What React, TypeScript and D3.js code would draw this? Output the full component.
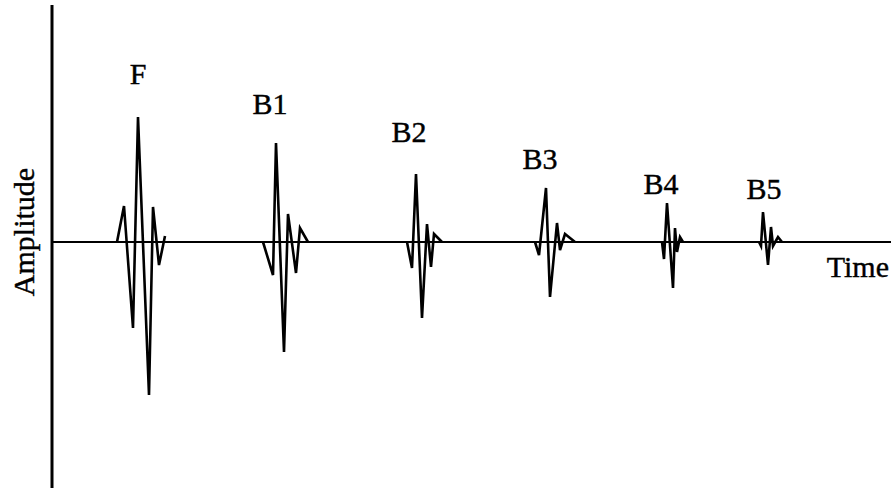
import * as d3 from "d3";
import { useEffect, useRef } from "react";

// pulse labels and waveforms: [time, amplitude]
const labels = ["F", "B1", "B2", "B3", "B4", "B5"];
// label anchor in data units: time, amplitude
const labelTime = [86, 218, 357, 488, 609, 712];
const labelAmp = [158, 128, 100, 73, 48, 43];
const pulseF = [[65, 0], [72, 36], [81, -86], [86, 125], [97, -153], [101, 35], [107, -23], [113, 6]];
const pulseB1 = [[211, 0], [221, -33], [224, 99], [232, -110], [236, 28], [244, -31], [248, 14], [256, 0]];
const pulseB2 = [[355, 0], [360, -26], [364, 68], [370, -76], [375, 18], [379, -25], [382, 8], [390, 0]];
const pulseB3 = [[483, 0], [487, -13], [494, 54], [498, -55], [505, 19], [508, -8], [513, 8], [523, 0]];
const pulseB4 = [[610, 0], [612, -17], [615, 39], [621, -46], [623, 14], [625, -10], [628, 5], [631, 0]];
const pulseB5 = [[707, 0], [709, -4], [711, 30], [716, -23], [719, 15], [721, -4], [726, 5], [730, 0]];
const pulses = [pulseF, pulseB1, pulseB2, pulseB3, pulseB4, pulseB5];

const width = 891;
const height = 492;

export default function App() {
  const svgRef = useRef<SVGSVGElement>(null);

  useEffect(() => {
    if (!svgRef.current) return;
    const svg = d3.select(svgRef.current);
    svg.selectAll("*").remove();

    const x = d3.scaleLinear().domain([0, 839]).range([52, 891]);
    const y = d3.scaleLinear().domain([-246, 237]).range([488, 5]);

    const font = "'Liberation Serif', 'Times New Roman', serif";

    // time axis (baseline)
    svg
      .append("line")
      .attr("x1", x(0))
      .attr("x2", x(839))
      .attr("y1", y(0))
      .attr("y2", y(0))
      .attr("stroke", "#000")
      .attr("stroke-width", 2);

    // amplitude axis
    svg
      .append("line")
      .attr("x1", x(0))
      .attr("x2", x(0))
      .attr("y1", y(237))
      .attr("y2", y(-246))
      .attr("stroke", "#000")
      .attr("stroke-width", 3);

    const line = d3
      .line<number[]>()
      .x((d) => x(d[0]))
      .y((d) => y(d[1]));

    svg
      .selectAll(".pulse")
      .data(pulses)
      .enter()
      .append("path")
      .attr("class", "pulse")
      .attr("d", (d) => line(d))
      .attr("fill", "none")
      .attr("stroke", "#000")
      .attr("stroke-width", 2.6)
      .attr("stroke-linejoin", "miter");

    // echo labels
    svg
      .selectAll(".lbl")
      .data(labels)
      .enter()
      .append("text")
      .attr("class", "lbl")
      .attr("x", (_, i) => x(labelTime[i]))
      .attr("y", (_, i) => y(labelAmp[i]))
      .attr("text-anchor", "middle")
      .style("font-family", font)
      .style("font-size", "30px")
      .style("stroke", "#000")
      .style("stroke-width", 0.4)
      .text((d) => d);

    svg
      .append("text")
      .attr("x", 889)
      .attr("y", 277)
      .attr("text-anchor", "end")
      .style("font-family", font)
      .style("font-size", "30px")
      .style("stroke", "#000")
      .style("stroke-width", 0.4)
      .text("Time");

    svg
      .append("text")
      .attr("transform", `translate(34, 232) rotate(-90)`)
      .attr("text-anchor", "middle")
      .style("font-family", font)
      .style("font-size", "30px")
      .style("stroke", "#000")
      .style("stroke-width", 0.4)
      .text("Amplitude");
  }, []);

  return (
    <svg
      ref={svgRef}
      width={width}
      height={height}
      style={{ position: "absolute", left: 0, top: 0, background: "#fff" }}
    />
  );
}
